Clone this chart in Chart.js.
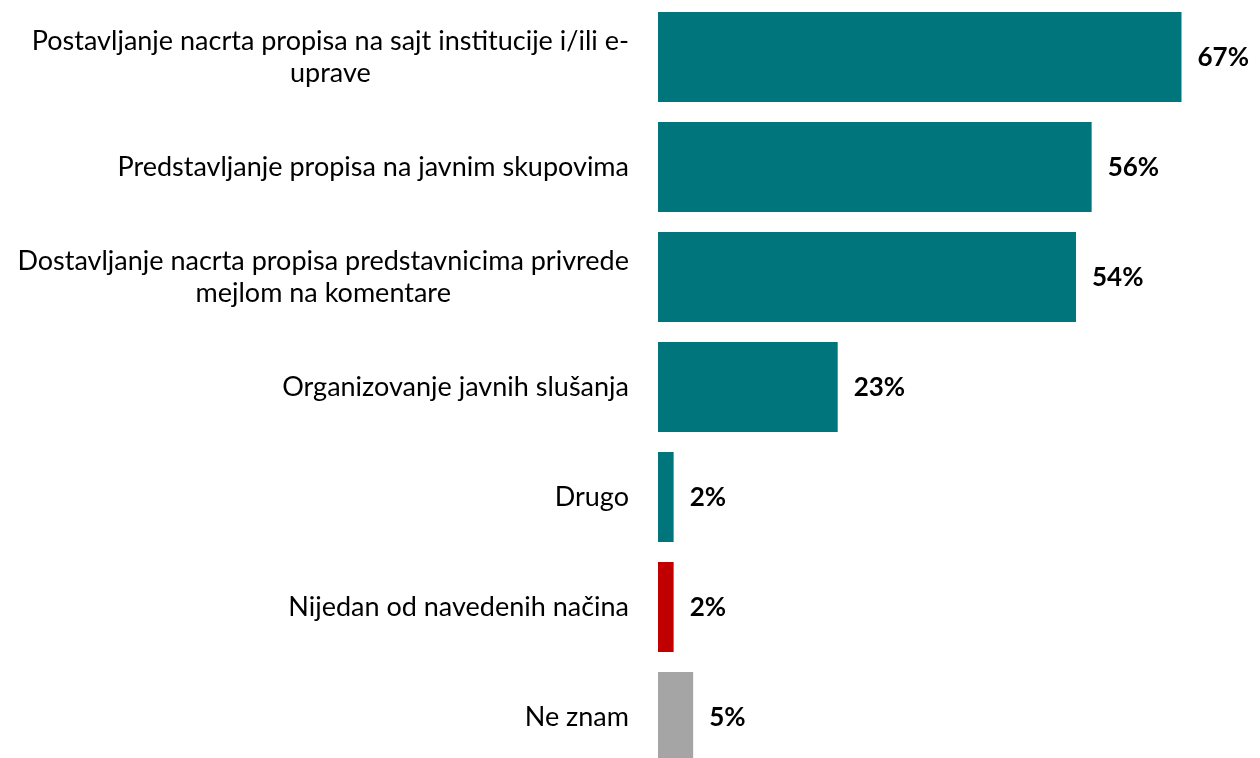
<!DOCTYPE html>
<html>
<head>
<meta charset="utf-8">
<script src="https://cdn.jsdelivr.net/npm/chart.js@4"></script>
<style>
  html, body { margin: 0; padding: 0; background: #ffffff; overflow: hidden; }
  #wrap { width: 1260px; height: 774px; }
</style>
</head>
<body>
<div id="wrap"><canvas id="c" width="1260" height="774"></canvas></div>
<script>
const categories = [
  ["Postavljanje nacrta propisa na sajt institucije i/ili e-", "uprave"],
  ["Predstavljanje propisa na javnim skupovima"],
  ["Dostavljanje nacrta propisa predstavnicima privrede", "mejlom na komentare"],
  ["Organizovanje javnih slušanja"],
  ["Drugo"],
  ["Nijedan od navedenih načina"],
  ["Ne znam"]
];
const values = [67, 55.5, 53.5, 23, 2, 2, 4.5];
const barColors = ["#00767C", "#00767C", "#00767C", "#00767C", "#00767C", "#C00000", "#A5A5A5"];

const FONT = "Lato, 'Open Sans', sans-serif";

const labelPlugin = {
  id: 'customLabels',
  afterDatasetsDraw(chart) {
    const ctx = chart.ctx;
    const meta = chart.getDatasetMeta(0);
    ctx.save();
    // value labels
    ctx.font = "bold 26px " + FONT;
    ctx.fillStyle = "#000000";
    ctx.textAlign = "left";
    ctx.textBaseline = "middle";
    meta.data.forEach((bar, i) => {
      ctx.fillText(Math.round(values[i]) + "%", bar.x + 16, bar.y + 1);
    });
    // category labels: block right-aligned, lines centered to each other
    const yScale = chart.scales.y;
    const rightEdge = chart.chartArea.left - 29;
    const lh = 32;
    ctx.font = "27px " + FONT;
    ctx.textAlign = "center";
    categories.forEach((lines, i) => {
      const yc = yScale.getPixelForTick(i);
      const widths = lines.map(l => ctx.measureText(l).width);
      const maxW = Math.max(...widths);
      const cx = rightEdge - maxW / 2;
      const y0 = yc - (lines.length - 1) * lh / 2;
      lines.forEach((l, k) => ctx.fillText(l, cx, y0 + k * lh));
    });
    ctx.restore();
  }
};

new Chart(document.getElementById('c'), {
  type: 'bar',
  data: {
    labels: categories,
    datasets: [{
      data: values,
      backgroundColor: barColors,
      borderWidth: 0,
      categoryPercentage: 1.0,
      barPercentage: 0.818
    }]
  },
  options: {
    indexAxis: 'y',
    responsive: false,
    animation: false,
    layout: { padding: { top: 2, bottom: 2, right: 16, left: 0 } },
    plugins: { legend: { display: false }, tooltip: { enabled: false } },
    scales: {
      x: { display: false, min: 0, max: 75 },
      y: {
        grid: { display: false },
        border: { display: false },
        ticks: { display: false },
        afterFit(scale) { scale.width = 658; }
      }
    }
  },
  plugins: [labelPlugin]
});
</script>
</body>
</html>
